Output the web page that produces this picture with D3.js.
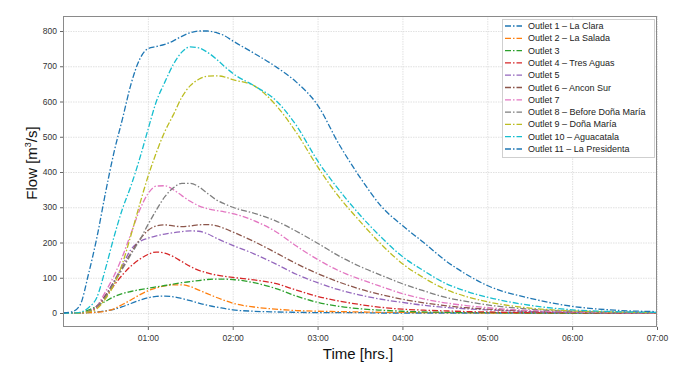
<!DOCTYPE html>
<html><head><meta charset="utf-8">
<script src="https://cdn.jsdelivr.net/npm/d3@7"></script>
<style>
html,body{margin:0;padding:0;background:#fff;}
svg{display:block;}
</style></head>
<body><svg id="chart" width="675" height="379"></svg>
<script>
const times = [0,0.1,0.2,0.3,0.4,0.5,0.6,0.7,0.8,0.9,1.0,1.1,1.2,1.3,1.4,1.5,1.6,1.7,1.8,1.9,2.0,2.25,2.5,2.75,3.0,3.25,3.5,3.75,4.0,4.25,4.5,4.75,5.0,5.5,6.0,6.5,7.0];

const outletNames = ["Outlet 1 \u2013 La Clara","Outlet 2 \u2013 La Salada","Outlet 3","Outlet 4 \u2013 Tres Aguas","Outlet 5","Outlet 6 \u2013 Ancon Sur","Outlet 7","Outlet 8 \u2013 Before Do\u00f1a Mar\u00eda","Outlet 9 \u2013 Do\u00f1a Mar\u00eda","Outlet 10 \u2013 Aguacatala","Outlet 11 \u2013 La Presidenta"];
const outletColors = ["#1f77b4","#ff7f0e","#2ca02c","#d62728","#9467bd","#8c564b","#e377c2","#7f7f7f","#bcbd22","#17becf","#1f77b4"];

const outlet1  = [0,0,0,1,3,6,10,18,27,36,43,47,48,46,41,35,28,22,17,13,9,5,3,2,1,1,1,0,0,0,0,0,0,0,0,0,0];
const outlet2  = [0,0,0,1,2,5,12,24,37,51,63,71,77,80,80,75,65,55,45,36,28,17,11,7,5,4,3,2,2,1,1,1,0,0,0,0,0];
const outlet3  = [0,0,1,8,20,33,46,55,61,66,70,74,78,82,86,89,92,95,96,96,95,86,70,48,30,19,12,8,5,3,2,1,1,0,0,0,0];
const outlet4  = [0,0,0,3,16,45,78,108,133,152,166,173,170,160,146,132,121,114,108,104,101,94,84,65,47,34,24,16,11,8,6,4,3,1,1,0,0];
const outlet5  = [0,0,0,4,20,50,90,135,180,202,212,219,224,228,231,233,232,225,213,202,192,168,140,110,86,66,51,39,30,22,16,12,9,4,2,1,0];
const outlet6  = [0,0,0,4,20,50,88,128,170,207,234,247,250,247,245,247,250,251,248,240,230,203,172,140,112,88,68,52,39,29,21,15,11,5,2,1,0];
const outlet7  = [0,0,0,4,20,60,105,160,225,290,338,360,361,350,333,317,304,296,291,287,282,262,232,190,152,120,96,75,55,40,29,21,15,7,3,1,0];
const outlet8  = [0,0,0,5,20,45,85,125,166,205,250,292,330,355,368,368,358,340,322,310,300,283,262,232,198,162,132,107,83,63,45,33,23,11,5,2,1];
const outlet9  = [0,0,0,3,12,40,80,140,220,305,386,455,515,562,612,645,663,672,673,670,662,645,592,512,415,330,260,195,140,100,68,47,32,14,6,3,1];
const outlet10 = [0,0,2,15,45,125,215,295,360,435,519,600,655,705,740,755,752,740,722,700,680,645,605,532,432,350,278,215,160,120,85,62,45,22,9,4,2];
const outlet11 = [0,3,22,110,215,340,455,550,648,718,750,756,762,772,785,795,800,800,796,787,772,737,700,655,590,480,385,303,248,200,150,110,78,42,19,8,4];

const seriesValues = [outlet1,outlet2,outlet3,outlet4,outlet5,outlet6,outlet7,outlet8,outlet9,outlet10,outlet11];
const yTicks = [0,100,200,300,400,500,600,700,800];
const xTicks = [1,2,3,4,5,6,7];
const xTickLabels = ["01:00","02:00","03:00","04:00","05:00","06:00","07:00"];

const svg = d3.select("#chart");
const L = 63, R = 657, T = 16, B = 327;
const x = d3.scaleLinear().domain([0,7]).range([L,R]);
const y = d3.scaleLinear().domain([-39.7,842.6]).range([B,T]);

const tickFont = "'Liberation Sans Narrow','Liberation Sans',Arial,sans-serif";

// grid
const grid = svg.append("g");
grid.selectAll("line.hy").data(yTicks).join("line")
  .attr("x1",L).attr("x2",R).attr("y1",d=>y(d)+0.5).attr("y2",d=>y(d)+0.5)
  .attr("stroke","#d9d9d9").attr("stroke-width",0.8).attr("stroke-dasharray","1.5,1");
grid.selectAll("line.vx").data(xTicks).join("line")
  .attr("y1",T).attr("y2",B).attr("x1",d=>x(d)+0.5).attr("x2",d=>x(d)+0.5)
  .attr("stroke","#d9d9d9").attr("stroke-width",0.8).attr("stroke-dasharray","1.5,1");

// axes
const yAxis = d3.axisLeft(y).tickValues(yTicks).tickSize(3).tickPadding(3);
const gy = svg.append("g").attr("transform",`translate(${L},0)`).call(yAxis);
gy.select(".domain").remove();
gy.selectAll(".tick line").attr("stroke","#666");
gy.selectAll(".tick text").attr("font-family",tickFont).attr("font-size",8.5).attr("fill","#333");

const xAxis = d3.axisBottom(x).tickValues(xTicks).tickFormat((d,i)=>xTickLabels[i]).tickSize(3).tickPadding(5);
const gx = svg.append("g").attr("transform",`translate(0,${B})`).call(xAxis);
gx.select(".domain").remove();
gx.selectAll(".tick line").attr("stroke","#666");
gx.selectAll(".tick text").attr("font-family",tickFont).attr("font-size",8.5).attr("fill","#333");

// lines
svg.append("clipPath").attr("id","pc").append("rect").attr("x",L).attr("y",T).attr("width",R-L).attr("height",B-T);
const line = d3.line().x(d=>x(d[0])).y(d=>y(d[1])).curve(d3.curveMonotoneX);
const lines = svg.append("g").attr("clip-path","url(#pc)");
seriesValues.forEach((vals,i)=>{
  lines.append("path")
    .attr("d", line(times.map((t,j)=>[t,vals[j]])))
    .attr("fill","none").attr("stroke",outletColors[i]).attr("stroke-width",1.3)
    .attr("stroke-dasharray","6,2,1.5,2");
});

// frame
svg.append("rect").attr("x",L+0.5).attr("y",T+0.5).attr("width",R-L-1).attr("height",B-T-1)
  .attr("fill","none").attr("stroke","#8a8a8a").attr("stroke-width",1);

// axis titles
const yl = svg.append("text").attr("transform",`translate(37,163) rotate(-90)`)
  .attr("text-anchor","middle").attr("font-family","'Liberation Sans',Arial,sans-serif")
  .attr("font-size",15).attr("fill","#111");
yl.append("tspan").text("Flow [m");
yl.append("tspan").attr("font-size",9).attr("dy",-6).text("3");
yl.append("tspan").attr("dy",6).text("/s]");

svg.append("text").attr("x",358).attr("y",359).attr("text-anchor","middle")
  .attr("font-family","'Liberation Sans Narrow','Liberation Sans',Arial,sans-serif")
  .attr("font-size",15).attr("fill","#111").text("Time [hrs.]");

// legend
const lg = svg.append("g");
lg.append("rect").attr("x",502.5).attr("y",19.5).attr("width",152).attr("height",138)
  .attr("fill","#fff").attr("stroke","#cfcfcf").attr("stroke-width",1);
outletNames.forEach((name,i)=>{
  const yy = 26 + i*12.3;
  lg.append("line").attr("x1",505).attr("x2",522).attr("y1",yy).attr("y2",yy)
    .attr("stroke",outletColors[i]).attr("stroke-width",1.3).attr("stroke-dasharray","6,2,1.5,2");
  lg.append("text").attr("x",528).attr("y",yy+3).attr("font-family",tickFont)
    .attr("font-size",9).attr("fill","#222").text(name);
});
</script></body></html>
